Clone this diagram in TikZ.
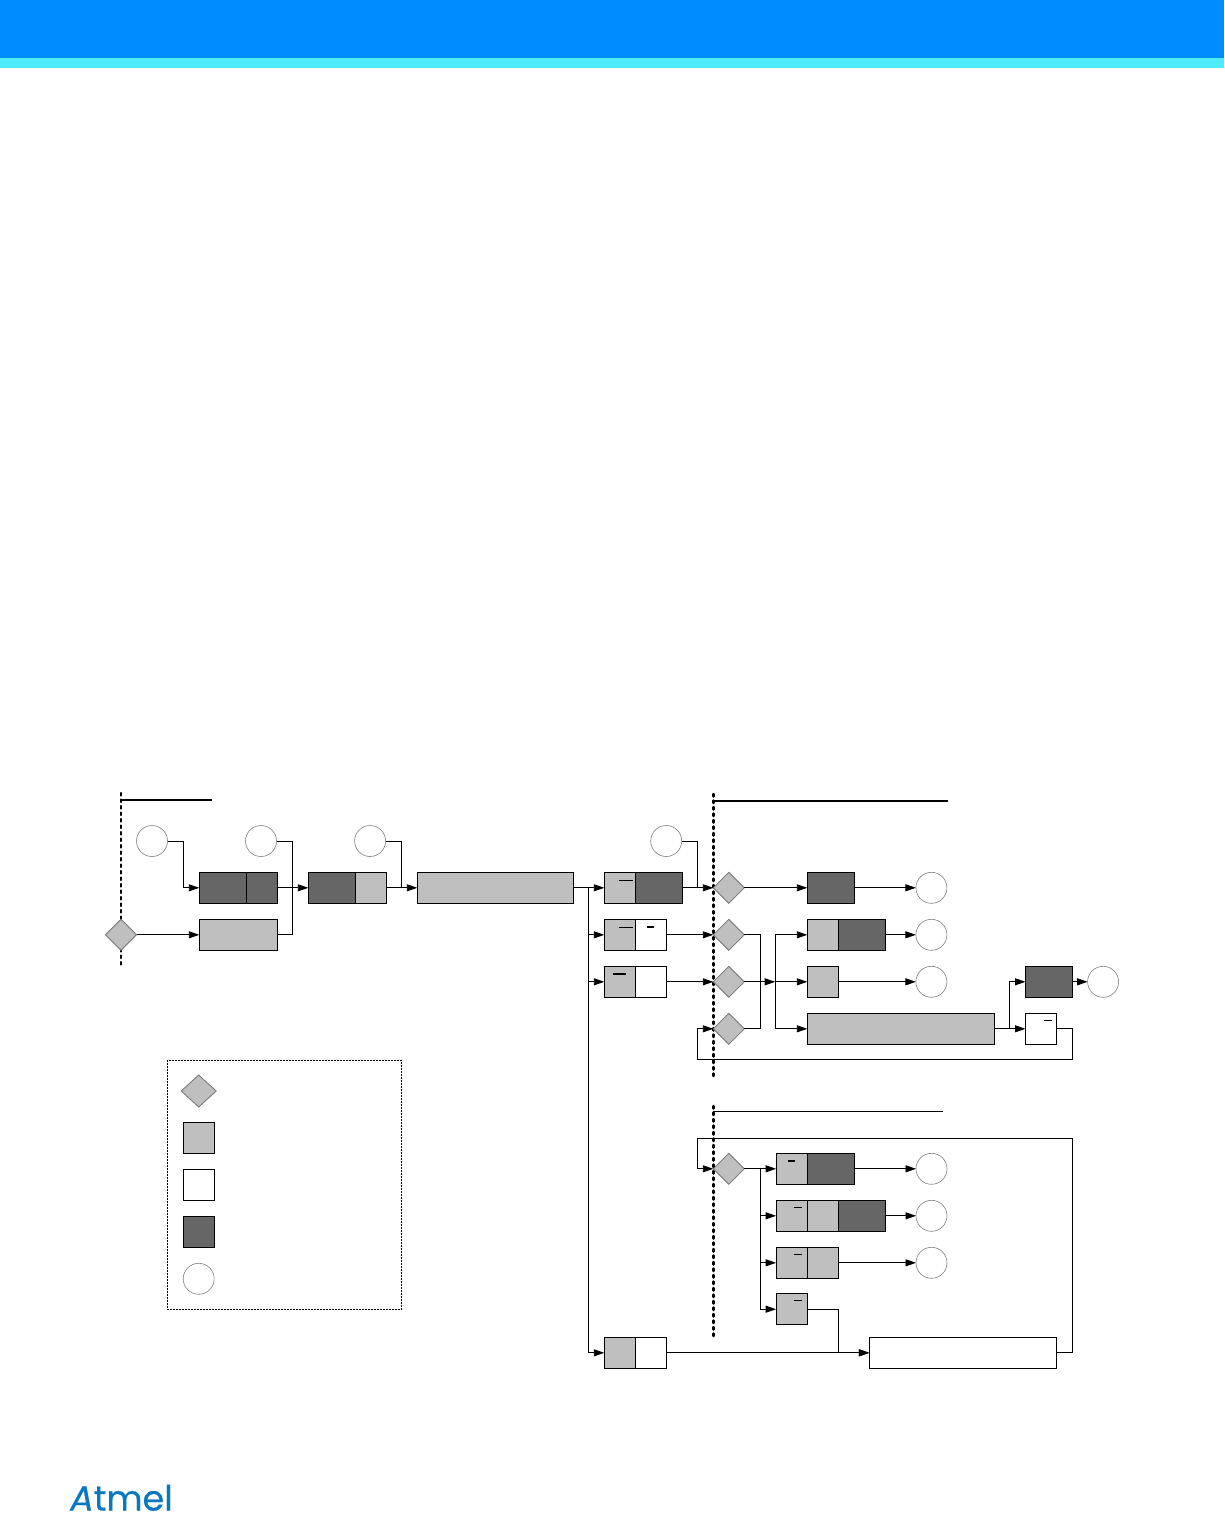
\documentclass[tikz,border=0pt]{standalone}
\usepackage{xcolor}
\usepackage{fontspec}
\usetikzlibrary{arrows.meta,positioning,shapes.geometric,calc,backgrounds}
\newfontfamily\logofont[FakeBold=0.5]{Poppins}
\definecolor{bandblue}{HTML}{008CFF}
\definecolor{bandcyan}{HTML}{50EBFF}
\definecolor{cellgray}{HTML}{BFBFBF}
\definecolor{celldark}{HTML}{666666}
\definecolor{logoblue}{HTML}{0A78BE}

\begin{document}
\begin{tikzpicture}[
  x=1pt, y=-1pt,
  box/.style={draw, line width=0.9pt, inner sep=0pt, outer sep=0pt, minimum height=31pt},
  lite/.style={box, fill=cellgray, minimum width=#1},
  dark/.style={box, fill=celldark, minimum width=#1},
  blank/.style={box, fill=white, minimum width=#1},
  gate/.style={diamond, aspect=1, draw=black!55, fill=cellgray, line width=0.8pt, inner sep=0pt, outer sep=0pt, minimum width=31pt, minimum height=31pt},
  src/.style={circle, draw=black!50, line width=0.6pt, fill=white, inner sep=0pt, outer sep=0pt, minimum size=31pt},
  wire/.style={line width=0.9pt},
  arr/.style={wire, -{Triangle[length=10.5pt,width=7pt]}},
  bar/.style={line width=0.9pt},
  barb/.style={line width=2pt},
  border/.style={line width=2.5pt, line cap=round, dash pattern=on 2.5pt off 4pt},
  rule/.style={line width=2pt},
  legbox/.style={draw, line width=0.8pt, dash pattern=on 2pt off 1pt, inner sep=0pt, outer sep=0pt, minimum width=234.4pt, minimum height=249pt}
]
\useasboundingbox (0,0) rectangle (1224,1513);
\fill[bandblue] (0,0) rectangle (1224,58);
\fill[bandcyan] (0,58) rectangle (1224,68);

% left part
\node[gate] (g0) at (121,934.8) {};
\node[lite=78.4, right=62.8pt of g0] (r1) {};
\node[dark=47, above=16pt of r1.north west, anchor=south west] (wd1) {};
\node[dark=31.4, right=0pt of wd1] (wd2) {};
\node[dark=47.2, right=30.6pt of wd2] (bd1) {};
\node[lite=31.2, right=0pt of bd1] (bl2) {};
\node[lite=156.4, right=30.6pt of bl2] (long) {};
\node[src, above=15.8pt of wd1.north west, xshift=-47.3pt] (src1) {};
\node[src, above=15.8pt of wd2.north, xshift=-1pt] (src2) {};
\node[src, above=15.8pt of bl2.north, xshift=-1pt] (src3) {};

% first column after the long box
\node[lite=31, right=30.6pt of long] (cc1) {};
\node[dark=47, right=0pt of cc1] (cc2) {};
\node[lite=31, below=16pt of cc1.south west, anchor=north west] (ee1) {};
\node[blank=31.4, right=0pt of ee1] (ee2) {};
\node[lite=31, below=16pt of ee1.south west, anchor=north west] (ff1) {};
\node[blank=31.4, right=0pt of ff1] (ff2) {};
\node[lite=31, below=340pt of ff1.south west, anchor=north west] (qq1) {};
\node[blank=31.4, right=0pt of qq1] (qq2) {};
\node[blank=187.4, right=202.6pt of qq2] (ll) {};
\node[src, above=15.8pt of cc2.north, xshift=7.4pt] (src4) {};

% gates
\node[gate, right=31pt of cc2] (g1) {};
\node[gate, below=16pt of g1] (g2) {};
\node[gate, below=16pt of g2] (g3) {};
\node[gate, below=16pt of g3] (g4) {};
\node[gate, below=109pt of g4] (g5) {};

% upper results
\node[dark=47.1, right=63pt of g1] (dd1) {};
\node[lite=30.7, below=16pt of dd1.south west, anchor=north west] (hh1) {};
\node[dark=47.5, right=0pt of hh1] (hh2) {};
\node[lite=30.7, below=16pt of hh1.south west, anchor=north west] (ii1) {};
\node[lite=187.1, below=16pt of ii1.south west, anchor=north west] (wait) {};
\node[src, right=61.5pt of dd1] (src5) {};
\node[src, below=16pt of src5] (src6) {};
\node[src, below=16pt of src6] (src7) {};
\node[dark=47.1, right=78.6pt of src7] (jj) {};
\node[src, right=15pt of jj] (src8) {};
\node[blank=31.4, below=16pt of jj.south west, anchor=north west] (kk) {};

% lower results
\node[lite=31, right=31.8pt of g5] (m1) {};
\node[dark=47.4, right=0pt of m1] (m2) {};
\node[lite=31, below=16pt of m1.south west, anchor=north west] (n1) {};
\node[lite=31.4, right=0pt of n1] (n2) {};
\node[dark=47, right=0pt of n2] (n3) {};
\node[lite=31, below=16pt of n1.south west, anchor=north west] (o1) {};
\node[lite=31.4, right=0pt of o1] (o2) {};
\node[lite=31, below=15.4pt of o1.south west, anchor=north west] (p1) {};
\node[src, right=61.5pt of m2] (src9) {};
\node[src, below=16pt of src9] (src10) {};
\node[src, below=16pt of src10] (src11) {};

% legend
\node[legbox, below right=110pt and 46.3pt of g0.south] (legend) {};
\node[gate, minimum width=35pt, minimum height=32pt, below=14.7pt of legend.north west, xshift=31.4pt] (legG) {};
\node[lite=31, below=15.3pt of legG] (legL) {};
\node[blank=31, below=16pt of legL] (legW) {};
\node[dark=31, below=16pt of legW] (legD) {};
\node[src, below=16pt of legD] (legS) {};

% logo
\node[font=\logofont\fontsize{35}{35}\selectfont, text=logoblue, inner sep=0pt, anchor=base west] (logo) at (70,1510.5) {{\itshape A}tmel};

% junction points
\coordinate[right=15pt of wd2.east] (join1);
\coordinate[right=15pt of bl2.east] (join2);
\coordinate[right=14.5pt of long.east] (busA);
\coordinate[right=15pt of cc2.east] (join3);
\coordinate[right=15.9pt of g3.east] (mergeA);
\coordinate[right=30.9pt of g3.east] (busB);
\coordinate[right=14.7pt of wait.east] (join4);
\coordinate[below=62pt of jj.south east] (loopA);
\coordinate[left=16pt of g4.west] (loopB);
\coordinate[left=16pt of g5.west] (loopC);
\coordinate[right=15.8pt of g5.east] (busC);

% flow
\draw[arr] (src1.east) -- ++(16,0) |- (wd1.west);
\draw[wire] (src2.east) -| (join1);
\draw[wire] (r1.east) -| (join1);
\draw[arr] (wd2.east) -- (bd1.west);
\draw[wire] (src3.east) -| (join2);
\draw[arr] (bl2.east) -- (long.west);
\draw[arr] (long.east) -- (cc1.west);
\draw[arr] (g0.east) -- (r1.west);
\draw[arr] (busA) |- (ee1.west);
\draw[arr] (busA) |- (ff1.west);
\draw[arr] (busA) |- (qq1.west);
\draw[wire] (src4.east) -| (join3);
\draw[arr] (cc2.east) -- (g1.west);
\draw[arr] (ee2.east) -- (g2.west);
\draw[arr] (ff2.east) -- (g3.west);
\draw[arr] (g1.east) -- (dd1.west);
\draw[arr] (dd1.east) -- (src5.west);
\draw[wire] (g2.east) -| (mergeA);
\draw[wire] (g4.east) -| (mergeA);
\draw[arr] (g3.east) -- (busB);
\draw[arr] (busB) |- (hh1.west);
\draw[arr] (busB) -- (ii1.west);
\draw[arr] (busB) |- (wait.west);
\draw[arr] (hh2.east) -- (src6.west);
\draw[arr] (ii1.east) -- (src7.west);
\draw[arr] (wait.east) -- (kk.west);
\draw[arr] (join4) |- (jj.west);
\draw[arr] (jj.east) -- (src8.west);
\draw[arr] (kk.east) -| (loopA) -| (loopB) -- (g4.west);
\draw[arr] (ll.east) -- ++(15.6,0) -- ++(0,-214.7) -| (loopC) -- (g5.west);
\draw[arr] (g5.east) -- (m1.west);
\draw[arr] (busC) |- (n1.west);
\draw[arr] (busC) |- (o1.west);
\draw[arr] (busC) |- (p1.west);
\draw[arr] (m2.east) -- (src9.west);
\draw[arr] (n3.east) -- (src10.west);
\draw[arr] (o2.east) -- (src11.west);
\draw[arr] (p1.east) -- ++(31.4,0) |- (ll.west);
\draw[arr] (qq2.east) -- (ll.west);

% marks over the cell tops
\draw[bar] ([shift={(15,8)}]cc1.north west) -- ++(13.2,0);
\draw[bar] ([shift={(15,8)}]ee1.north west) -- ++(13.2,0);
\draw[barb] ([shift={(12,8)}]ee2.north west) -- ++(7,0);
\draw[barb] ([shift={(8.6,7.6)}]ff1.north west) -- ++(13.5,0);
\draw[bar] ([shift={(18.6,7.6)}]kk.north west) -- ++(7.4,0);
\draw[barb] ([shift={(11.4,7.6)}]m1.north west) -- ++(7.4,0);
\draw[bar] ([shift={(18,7)}]n1.north west) -- ++(7.4,0);
\draw[bar] ([shift={(18,7)}]o1.north west) -- ++(7.4,0);
\draw[bar] ([shift={(18,7)}]p1.north west) -- ++(7.4,0);

% section borders
\begin{scope}[on background layer]
\draw[border] ([yshift=126.3pt]g0.north) -- ([yshift=-16.5pt]g0.south);
\draw[border] ([yshift=78.3pt]g1.north -| g1.west) -- ([yshift=-31.7pt]g4.south -| g1.west);
\draw[border] ([yshift=47.3pt]g5.north -| g5.west) -- ([yshift=-152.4pt]g5.south -| g5.west);
\draw[rule] ([yshift=119.3pt]g0.north) -- ++(91,0);
\draw[rule] ([yshift=71.3pt]g1.north -| g1.west) -- ++(234.5,0);
\draw[wire] ([yshift=42pt]g5.north -| g5.west) -- ++(229.4,0);
\end{scope}
\end{tikzpicture}
\end{document}
